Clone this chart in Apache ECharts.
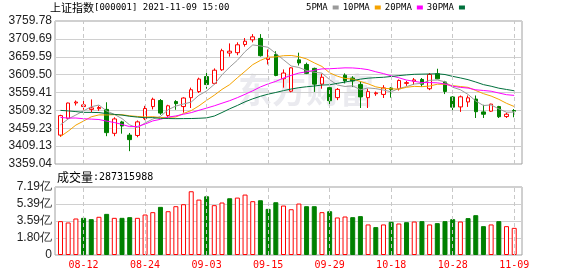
<!DOCTYPE html>
<html><head><meta charset="utf-8">
<script src="https://cdn.jsdelivr.net/npm/echarts@6/dist/echarts.min.js"></script>
<style>html,body{margin:0;padding:0;background:#fff}#c{width:578px;height:276px}</style>
</head><body><div id="c"></div>
<script>
const dates = ['08-09','08-10','08-11','08-12','08-13','08-16','08-17','08-18','08-19','08-20','08-23','08-24','08-25','08-26','08-27','08-30','08-31','09-01','09-02','09-03','09-06','09-07','09-08','09-09','09-10','09-13','09-14','09-15','09-16','09-17','09-22','09-23','09-24','09-27','09-28','09-29','09-30','10-08','10-11','10-12','10-13','10-14','10-15','10-18','10-19','10-20','10-21','10-22','10-25','10-26','10-27','10-28','10-29','11-01','11-02','11-03','11-04','11-05','11-08','11-09'];
const opens = [3440,3487,3530,3520,3512,3514,3512,3445,3477,3440,3439,3486,3520,3537,3495,3534,3520,3545,3562,3604,3585,3623,3670,3671,3694,3707,3711,3652,3666,3598,3563,3651,3638,3627,3583,3573,3545,3608,3600,3582,3545,3556,3554,3572,3570,3585,3591,3596,3570,3612,3589,3547,3519,3533,3541,3505,3507,3520,3492,3509];
const closes = [3494.63,3529.93,3532.62,3524.74,3516.30,3517.34,3446.98,3485.29,3465.55,3427.33,3477.13,3514.47,3540.38,3501.66,3522.16,3528.15,3543.94,3567.10,3597.04,3581.73,3621.86,3676.59,3675.19,3693.13,3703.11,3715.37,3662.60,3656.22,3607.09,3613.97,3628.49,3642.22,3613.07,3582.83,3602.22,3536.29,3568.17,3592.17,3591.71,3546.94,3561.76,3558.28,3572.37,3568.14,3593.15,3587.00,3594.78,3582.60,3609.86,3597.64,3562.31,3518.42,3547.34,3544.48,3505.63,3498.54,3526.87,3491.57,3498.63,3507.00];
const lows = [3435,3484,3523,3511,3504,3508,3437,3437,3444,3395,3434,3482,3512,3497,3490,3511,3503,3516,3558,3570,3582,3620,3660,3664,3688,3700,3660,3638,3605,3573,3560,3635,3611,3561,3570,3517,3538,3585,3575,3516,3516,3550,3544,3545,3565,3578,3581,3575,3566,3597,3555,3510,3505,3519,3488,3488,3505,3488,3488,3490];
const highs = [3497,3531,3537,3538,3540,3522,3532,3490,3480,3446,3481,3522,3545,3541,3525,3538,3546,3573,3601,3615,3627,3682,3697,3700,3712,3723,3723,3680,3675,3624,3630,3671,3643,3629,3612,3575,3572,3613,3605,3590,3570,3562,3580,3574,3596,3592,3600,3600,3614,3626,3592,3549,3551,3551,3551,3525,3528,3522,3503,3513];
const ma5 = [3468.9,3485.3,3496.4,3508.0,3519.6,3524.2,3507.6,3498.1,3486.3,3468.5,3460.5,3474.0,3485.0,3492.2,3511.2,3521.4,3527.3,3532.6,3551.7,3563.6,3582.3,3608.9,3630.5,3649.7,3674.0,3692.7,3689.9,3686.1,3668.9,3651.1,3633.7,3629.6,3621.0,3616.1,3613.8,3595.3,3580.5,3576.3,3578.1,3567.1,3572.2,3570.2,3566.2,3561.5,3570.7,3575.8,3583.1,3585.1,3593.5,3594.4,3589.4,3574.2,3567.1,3554.0,3535.6,3522.9,3524.6,3513.4,3504.2,3504.5];
const ma10 = [3436.1,3451.0,3468.1,3479.4,3491.3,3496.6,3496.5,3497.3,3497.2,3494.1,3492.3,3490.8,3491.6,3489.2,3489.8,3490.9,3500.6,3508.8,3521.9,3537.4,3551.8,3568.1,3581.5,3600.7,3618.8,3637.5,3649.4,3658.3,3659.3,3662.5,3663.2,3659.7,3653.5,3642.5,3632.4,3614.5,3605.1,3598.7,3597.1,3590.4,3583.7,3575.3,3571.3,3569.8,3568.9,3574.0,3576.6,3575.7,3577.5,3582.6,3582.6,3578.6,3576.1,3573.8,3565.0,3556.2,3549.4,3540.3,3529.1,3520.1];
const ma20 = [3489.5,3487.7,3487.9,3485.9,3484.8,3483.7,3479.2,3475.3,3469.9,3463.7,3464.2,3470.9,3479.8,3484.3,3490.5,3493.7,3498.5,3503.0,3509.5,3515.7,3522.1,3529.4,3536.5,3545.0,3554.3,3564.2,3575.0,3583.5,3590.6,3599.9,3607.5,3613.9,3617.5,3621.6,3625.6,3626.0,3627.2,3628.5,3628.2,3626.5,3623.5,3617.5,3612.4,3606.2,3600.7,3594.2,3590.8,3587.2,3587.3,3586.5,3583.2,3577.0,3573.7,3571.8,3567.0,3565.1,3563.0,3558.0,3553.3,3551.3];
const ma30 = [3509.3,3507.8,3505.9,3503.8,3503.7,3503.1,3500.3,3498.1,3496.1,3492.8,3490.5,3488.7,3489.1,3487.0,3486.5,3486.1,3486.3,3486.5,3487.2,3488.3,3493.4,3503.3,3513.7,3523.1,3533.3,3541.7,3548.8,3554.8,3559.5,3564.7,3569.1,3572.9,3575.5,3577.5,3580.3,3581.0,3585.0,3588.6,3592.8,3596.8,3599.6,3601.0,3602.1,3604.3,3606.7,3608.7,3610.4,3610.9,3611.3,3611.8,3609.8,3604.6,3600.3,3595.4,3588.8,3581.5,3577.0,3571.5,3567.9,3564.3];
const volumes = [3.58,3.44,3.86,3.93,3.79,4.04,4.35,3.93,3.93,4.00,3.93,4.28,4.53,5.09,4.63,5.16,5.37,6.74,5.86,6.21,5.27,5.55,6.00,6.07,6.39,5.69,5.79,4.88,5.58,5.23,4.84,5.44,5.16,5.16,4.53,4.63,3.97,4.07,4.00,4.11,3.23,2.95,3.23,3.51,3.33,3.47,3.54,3.58,3.23,3.37,3.58,3.79,3.54,3.90,4.21,3.05,3.23,3.58,3.05,2.87];
const prevClose = 3458.23;
const priceTickLabels = ['3359.04','3409.13','3459.23','3509.32','3559.41','3609.50','3659.59','3709.69','3759.78'];
const volTickLabels = ['0','1.80亿','3.59亿','5.39亿','7.19亿'];
const labelDates = ['08-12','08-24','09-03','09-15','09-29','10-18','10-28','11-09'];
const priceMin = 3359.04, priceMax = 3759.78, volMax = 7.19;

const RED = '#ff0000', GREEN = '#008000';
const candleData = dates.map((d, i) => [opens[i], closes[i], lows[i], highs[i]]);
const volData = volumes.map((v, i) => {
  const pc = i === 0 ? prevClose : closes[i - 1];
  const up = closes[i] >= pc;
  return { value: v, itemStyle: up ? { color: '#ffffff', borderColor: RED, borderWidth: 1 } : { color: GREEN, borderColor: GREEN, borderWidth: 1 } };
});
const vlines = {
  silent: true, symbol: ['none', 'none'], label: { show: false },
  lineStyle: { color: '#c8c8c8', type: [4, 3], width: 1 },
  emphasis: { disabled: true },
  data: labelDates.map(d => ({ xAxis: d }))
};
const labelFont = 'Liberation Sans';
const dataLeft = 56.65, dataWidth = 461.4;

const chart = echarts.init(document.getElementById('c'), null, { renderer: 'canvas' });
chart.setOption({
  animation: false,
  backgroundColor: '#ffffff',
  title: [
    { left: 50, top: 1.5, padding: 0, text: '{a|上证指数}{b|[000001] 2021-11-09 15:00}',
      textStyle: { fontWeight: 'normal', rich: { a: { fontFamily: 'Noto Sans CJK SC', fontSize: 11, fontWeight: 'normal', color: '#000', lineHeight: 13 },
                           b: { fontFamily: 'DejaVu Sans Mono', fontSize: 9, fontWeight: 'normal', color: '#000', lineHeight: 13 } } } },
    { left: 57, top: 170.5, padding: 0, text: '{a|成交量}{b|:287315988}',
      textStyle: { fontWeight: 'normal', rich: { a: { fontFamily: 'Noto Sans CJK SC', fontSize: 12, fontWeight: 'normal', color: '#000', lineHeight: 14 },
                           b: { fontFamily: 'DejaVu Sans Mono', fontSize: 10, fontWeight: 'normal', color: '#000', lineHeight: 14 } } } }
  ],
  legend: {
    left: 306, top: 3, padding: 0, itemWidth: 6, itemHeight: 4, itemGap: 4, align: 'right', icon: 'rect',
    textStyle: { fontFamily: 'DejaVu Sans Mono', fontSize: 9, color: '#000' },
    data: ['5PMA', '10PMA', '20PMA', '30PMA'], selectedMode: false
  },
  graphic: [{
    type: 'text', left: 238, top: 73, z: -1, silent: true,
    style: { text: '东方财富', font: 'bold 34px "Noto Sans CJK SC"', fill: 'rgba(190,190,205,0.32)' }
  }],
  grid: [
    { left: 55, top: 21, width: 467, height: 143, show: true, borderColor: '#a0a0a0', borderWidth: 1, backgroundColor: 'transparent' },
    { left: dataLeft, top: 21, width: dataWidth, height: 143 },
    { left: 55, top: 187, width: 467, height: 68, show: true, borderColor: '#a0a0a0', borderWidth: 1, backgroundColor: 'transparent' },
    { left: dataLeft, top: 187, width: dataWidth, height: 68 }
  ],
  xAxis: [
    { gridIndex: 0, type: 'value', min: 0, max: 1, show: false },
    { gridIndex: 1, type: 'category', data: dates, boundaryGap: true, axisLine: { show: false }, axisTick: { show: false }, axisLabel: { show: false }, splitLine: { show: false } },
    { gridIndex: 2, type: 'value', min: 0, max: 1, show: false },
    { gridIndex: 3, type: 'category', data: dates, boundaryGap: true, axisLine: { show: false }, axisTick: { show: false }, splitLine: { show: false },
      axisLabel: { show: true, color: RED, fontFamily: 'DejaVu Sans Mono', fontSize: 10, margin: 5,
        interval: (idx, val) => labelDates.indexOf(val) >= 0 } }
  ],
  yAxis: [
    { gridIndex: 0, type: 'value', min: 0, max: 8, interval: 1, axisLine: { show: false }, axisTick: { show: false },
      splitLine: { show: true, lineStyle: { color: '#d0d0d0', width: 1 } },
      axisLabel: { color: '#222', fontFamily: labelFont, fontSize: 12, margin: 3, showMinLabel: true, showMaxLabel: true,
        formatter: v => priceTickLabels[Math.round(v)] } },
    { gridIndex: 1, type: 'value', min: priceMin, max: priceMax, show: false },
    { gridIndex: 2, type: 'value', min: 0, max: 4, interval: 1, axisLine: { show: false }, axisTick: { show: false },
      splitLine: { show: true, lineStyle: { color: '#d0d0d0', width: 1 } },
      axisLabel: { color: '#222', fontFamily: labelFont, fontSize: 12, margin: 3, showMinLabel: true, showMaxLabel: true,
        formatter: v => volTickLabels[Math.round(v)] } },
    { gridIndex: 3, type: 'value', min: 0, max: volMax, show: false }
  ],
  series: [
    { name: 'K', type: 'candlestick', xAxisIndex: 1, yAxisIndex: 1, data: candleData, barWidth: 4,
      itemStyle: { color: '#ffffff', color0: GREEN, borderColor: RED, borderColor0: GREEN, borderWidth: 1 },
      markLine: vlines, z: 3 },
    { name: '5PMA', type: 'line', xAxisIndex: 1, yAxisIndex: 1, data: ma5, showSymbol: false, symbol: 'none', color: '#9a9a9a', lineStyle: { width: 1, color: '#9a9a9a' }, z: 4 },
    { name: '10PMA', type: 'line', xAxisIndex: 1, yAxisIndex: 1, data: ma10, showSymbol: false, symbol: 'none', color: '#f5a300', lineStyle: { width: 1, color: '#f5a300' }, z: 4 },
    { name: '20PMA', type: 'line', xAxisIndex: 1, yAxisIndex: 1, data: ma20, showSymbol: false, symbol: 'none', color: '#ff00ff', lineStyle: { width: 1, color: '#ff00ff' }, z: 4 },
    { name: '30PMA', type: 'line', xAxisIndex: 1, yAxisIndex: 1, data: ma30, showSymbol: false, symbol: 'none', color: '#00703c', lineStyle: { width: 1, color: '#00703c' }, z: 4 },
    { name: 'VOL', type: 'bar', xAxisIndex: 3, yAxisIndex: 3, data: volData, barWidth: 5, markLine: vlines }
  ]
});
</script></body></html>
